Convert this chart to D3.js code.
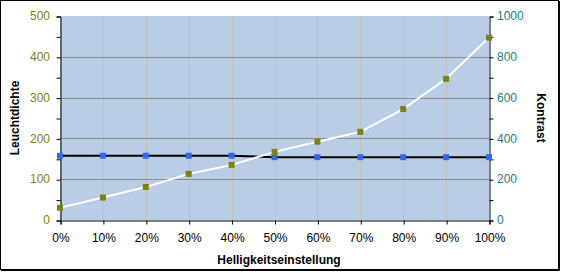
<!DOCTYPE html>
<html>
<head>
<meta charset="utf-8">
<script src="https://cdn.jsdelivr.net/npm/d3@7"></script>
<style>
  body { margin: 0; background: #fff; }
  svg { display: block; font-family: "Liberation Sans", Arial, sans-serif; }
</style>
</head>
<body>
<div id="chart"></div>
<script>
// chart data
const steps = ["0%", "10%", "20%", "30%", "40%", "50%", "60%", "70%", "80%", "90%", "100%"];
const leuchtdichte = [30, 55, 81, 113, 135, 167, 192, 216, 272, 346, 447];
const kontrast = [315, 315, 315, 315, 315, 308, 308, 308, 308, 308, 308];
const leftTicks = [0, 100, 200, 300, 400, 500];
const rightTicks = [0, 200, 400, 600, 800, 1000];

const width = 561, height = 273;
const plot = { left: 60, right: 489, top: 16, bottom: 220 };

const svg = d3.select("#chart").append("svg")
    .attr("width", width)
    .attr("height", height);

// outer frame with a little shadow on the right/bottom
svg.append("rect")
    .attr("x", 0.5).attr("y", 0.5)
    .attr("width", 558).attr("height", 269)
    .attr("fill", "#fff")
    .attr("stroke", "#000");
svg.append("path")
    .attr("d", "M559.5,1V270.5H1")
    .attr("fill", "none")
    .attr("stroke", "#000");

const x = d3.scalePoint().domain(steps).range([plot.left, plot.right]);
const yL = d3.scaleLinear().domain([0, 500]).range([plot.bottom, plot.top]);
const yR = d3.scaleLinear().domain([0, 1000]).range([plot.bottom, plot.top]);

// plot area
svg.append("rect")
    .attr("x", plot.left).attr("y", plot.top)
    .attr("width", plot.right - plot.left)
    .attr("height", plot.bottom - plot.top)
    .attr("fill", "#b9cde5");

// vertical grid
svg.append("g")
    .selectAll("line")
    .data(steps.slice(1, -1))
    .join("line")
    .attr("x1", d => Math.round(x(d)) + 0.5).attr("x2", d => Math.round(x(d)) + 0.5)
    .attr("y1", plot.top).attr("y2", plot.bottom)
    .attr("stroke", "#c0c0c0");

// horizontal grid
svg.append("g")
    .selectAll("line")
    .data(leftTicks.slice(1, -1))
    .join("line")
    .attr("x1", plot.left).attr("x2", plot.right)
    .attr("y1", d => Math.round(yL(d)) + 0.5).attr("y2", d => Math.round(yL(d)) + 0.5)
    .attr("stroke", "#8c8c8c");

// left axis
const leftAxis = svg.append("g")
    .attr("transform", `translate(${plot.left + 0.5},0.5)`)
    .call(d3.axisLeft(yL).tickValues(d3.range(0, 501, 50)).tickSize(4).tickFormat(""));
leftAxis.select(".domain").attr("stroke", "#000");
leftAxis.selectAll(".tick line").attr("stroke", "#000");
svg.append("g")
    .selectAll("text")
    .data(leftTicks)
    .join("text")
    .attr("x", 50)
    .attr("y", d => yL(d))
    .attr("dy", "0.35em")
    .attr("text-anchor", "end")
    .attr("font-size", "12px")
    .attr("fill", "#7f7f1a")
    .text(d => d);

// right axis
const rightAxis = svg.append("g")
    .attr("transform", `translate(${plot.right + 0.5},0.5)`)
    .call(d3.axisRight(yR).tickValues(d3.range(0, 1001, 100)).tickSize(4).tickFormat(""));
rightAxis.select(".domain").attr("stroke", "#000");
rightAxis.selectAll(".tick line").attr("stroke", "#000");
svg.append("g")
    .selectAll("text")
    .data(rightTicks)
    .join("text")
    .attr("x", 497)
    .attr("y", d => yR(d))
    .attr("dy", "0.35em")
    .attr("text-anchor", "start")
    .attr("font-size", "12px")
    .attr("fill", "#1a7f7f")
    .text(d => d);

// bottom axis
const bottomAxis = svg.append("g")
    .attr("transform", `translate(0.5,${plot.bottom + 0.5})`)
    .call(d3.axisBottom(x).tickSize(4).tickPadding(9));
bottomAxis.select(".domain").attr("stroke", "#000");
bottomAxis.selectAll(".tick line").attr("stroke", "#000");
bottomAxis.selectAll(".tick text")
    .attr("font-size", "12px")
    .attr("font-family", "'Liberation Sans', Arial, sans-serif")
    .attr("fill", "#000");

// axis titles
svg.append("text")
    .attr("x", 279)
    .attr("y", 264)
    .attr("text-anchor", "middle")
    .attr("font-size", "12px")
    .attr("font-weight", "bold")
    .text("Helligkeitseinstellung");

svg.append("text")
    .attr("transform", `translate(19,${(plot.top + plot.bottom) / 2}) rotate(-90)`)
    .attr("text-anchor", "middle")
    .attr("font-size", "12px")
    .attr("font-weight", "bold")
    .text("Leuchtdichte");

svg.append("text")
    .attr("transform", `translate(537,${(plot.top + plot.bottom) / 2}) rotate(90)`)
    .attr("text-anchor", "middle")
    .attr("font-size", "12px")
    .attr("font-weight", "bold")
    .text("Kontrast");

// Kontrast series (right axis)
svg.append("path")
    .datum(kontrast)
    .attr("fill", "none")
    .attr("stroke", "#000")
    .attr("stroke-width", 2)
    .attr("d", d3.line().x((d, i) => x(steps[i])).y(d => yR(d)));
svg.append("g")
    .selectAll("rect")
    .data(kontrast)
    .join("rect")
    .attr("x", (d, i) => x(steps[i]) - 3)
    .attr("y", d => yR(d) - 3)
    .attr("width", 6).attr("height", 6)
    .attr("fill", "#3366ee");

// Leuchtdichte series (left axis)
svg.append("path")
    .datum(leuchtdichte)
    .attr("fill", "none")
    .attr("stroke", "#fff")
    .attr("stroke-width", 2)
    .attr("d", d3.line().x((d, i) => x(steps[i])).y(d => yL(d)));
svg.append("g")
    .selectAll("rect")
    .data(leuchtdichte)
    .join("rect")
    .attr("x", (d, i) => x(steps[i]) - 3)
    .attr("y", d => yL(d) - 3)
    .attr("width", 6).attr("height", 6)
    .attr("fill", "#808019");
</script>
</body>
</html>
